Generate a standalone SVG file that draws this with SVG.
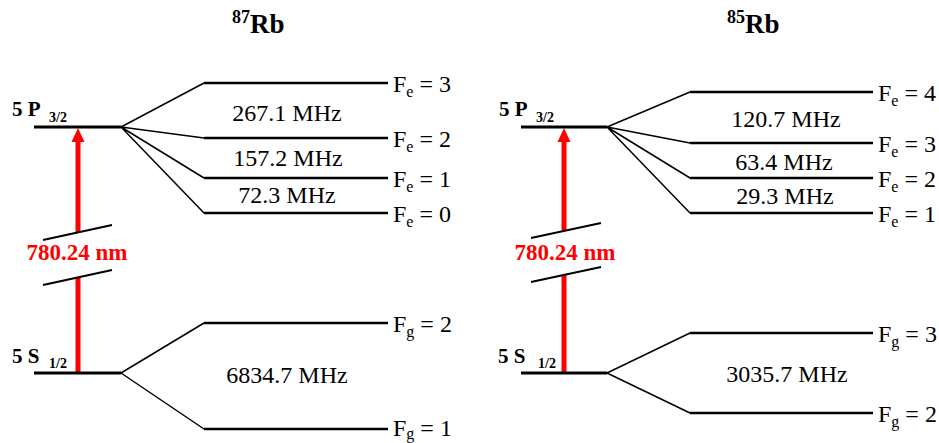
<svg xmlns="http://www.w3.org/2000/svg" width="939" height="443" viewBox="0 0 939 443">
<style>
text{font-family:"Liberation Serif",Tinos,"Times New Roman",Times,"Noto Serif","DejaVu Serif",serif;fill:#000}
.lvl{stroke:#000;stroke-width:3;fill:none}
.sub{stroke:#000;stroke-width:2.5;fill:none}
.con{stroke:#000;stroke-width:1.5;fill:none}
.brk{stroke:#000;stroke-width:2;fill:none}
.red{stroke:#ff0000;stroke-width:5;fill:none}
.lab{font-size:24px}
.mhz{font-size:24px;text-anchor:middle}
.st{font-size:21px;font-weight:bold}
.title{font-weight:bold}
.nm{font-size:23px;font-weight:bold;fill:#ff0000;text-anchor:middle}
</style>
<text class="title" x="232" y="33"><tspan font-size="18" dy="-10">87</tspan><tspan font-size="27" dy="10">Rb</tspan></text>
<text class="title" x="727" y="33"><tspan font-size="18" dy="-10">85</tspan><tspan font-size="27" dy="10">Rb</tspan></text>

<g id="connectors">
<path class="con" d="M121,127 L204,83 M121,127 L204,138 M121,127 L204,178 M121,127 L204,213"/>
<path class="con" d="M121,373 L204,323 M121,373 L204,429"/>
<path class="con" d="M607,127 L690,92 M607,127 L690,143 M607,127 L690,178 M607,127 L690,213"/>
<path class="con" d="M607,373 L690,333 M607,373 L690,413"/>
</g>

<g id="rb87-transition">
<line class="red" x1="78" y1="373" x2="78" y2="277"/>
<line class="red" x1="78" y1="232" x2="78" y2="142"/>
<path d="M71.5,142 L78,128 L84.5,142 Z" fill="#ff0000"/>
<line class="brk" x1="43" y1="240" x2="112" y2="225"/>
<line class="brk" x1="43" y1="285" x2="112" y2="270"/>
<text class="nm" x="77" y="260">780.24 nm</text>
</g>

<g id="rb87-5P">
<line class="lvl" x1="34" y1="127" x2="121" y2="127"/>
<text class="st" x="12" y="116">5 P<tspan font-size="14" x="49" y="122">3/2</tspan></text>
</g>
<g id="rb87-Fe3"><line class="sub" x1="204" y1="83" x2="388" y2="83"/><text class="lab" x="393" y="92">F<tspan font-size="16" dy="5">e</tspan><tspan dy="-5"> = 3</tspan></text></g>
<g id="rb87-Fe2"><line class="sub" x1="204" y1="138" x2="388" y2="138"/><text class="lab" x="393" y="147">F<tspan font-size="16" dy="5">e</tspan><tspan dy="-5"> = 2</tspan></text></g>
<g id="rb87-Fe1"><line class="sub" x1="204" y1="178" x2="388" y2="178"/><text class="lab" x="393" y="187">F<tspan font-size="16" dy="5">e</tspan><tspan dy="-5"> = 1</tspan></text></g>
<g id="rb87-Fe0"><line class="sub" x1="204" y1="213" x2="388" y2="213"/><text class="lab" x="393" y="222">F<tspan font-size="16" dy="5">e</tspan><tspan dy="-5"> = 0</tspan></text></g>
<text class="mhz" x="287" y="121">267.1 MHz</text>
<text class="mhz" x="288" y="166">157.2 MHz</text>
<text class="mhz" x="287" y="203">72.3 MHz</text>

<g id="rb87-5S">
<line class="lvl" x1="34" y1="373" x2="121" y2="373"/>
<text class="st" x="12" y="363">5 S<tspan font-size="14" x="49" y="368">1/2</tspan></text>
</g>
<g id="rb87-Fg2"><line class="sub" x1="204" y1="323" x2="388" y2="323"/><text class="lab" x="393" y="332">F<tspan font-size="16" dy="5">g</tspan><tspan dy="-5"> = 2</tspan></text></g>
<g id="rb87-Fg1"><line class="sub" x1="204" y1="429" x2="388" y2="429"/><text class="lab" x="393" y="436">F<tspan font-size="16" dy="3">g</tspan><tspan dy="-3"> = 1</tspan></text></g>
<text class="mhz" x="287" y="383">6834.7 MHz</text>

<g id="rb85-transition">
<line class="red" x1="564" y1="373" x2="564" y2="275"/>
<line class="red" x1="564" y1="230" x2="564" y2="142"/>
<path d="M557.5,142 L564,128 L570.5,142 Z" fill="#ff0000"/>
<line class="brk" x1="531" y1="238" x2="601" y2="223"/>
<line class="brk" x1="531" y1="282" x2="601" y2="267"/>
<text class="nm" x="565" y="260">780.24 nm</text>
</g>

<g id="rb85-5P">
<line class="lvl" x1="521" y1="127" x2="607" y2="127"/>
<text class="st" x="499" y="116">5 P<tspan font-size="14" x="536" y="122">3/2</tspan></text>
</g>
<g id="rb85-Fe4"><line class="sub" x1="690" y1="92" x2="873" y2="92"/><text class="lab" x="878" y="101">F<tspan font-size="16" dy="5">e</tspan><tspan dy="-5"> = 4</tspan></text></g>
<g id="rb85-Fe3"><line class="sub" x1="690" y1="143" x2="873" y2="143"/><text class="lab" x="878" y="152">F<tspan font-size="16" dy="5">e</tspan><tspan dy="-5"> = 3</tspan></text></g>
<g id="rb85-Fe2"><line class="sub" x1="690" y1="178" x2="873" y2="178"/><text class="lab" x="878" y="187">F<tspan font-size="16" dy="5">e</tspan><tspan dy="-5"> = 2</tspan></text></g>
<g id="rb85-Fe1"><line class="sub" x1="690" y1="213" x2="873" y2="213"/><text class="lab" x="878" y="222">F<tspan font-size="16" dy="5">e</tspan><tspan dy="-5"> = 1</tspan></text></g>
<text class="mhz" x="786" y="127">120.7 MHz</text>
<text class="mhz" x="784" y="170">63.4 MHz</text>
<text class="mhz" x="785" y="204">29.3 MHz</text>

<g id="rb85-5S">
<line class="lvl" x1="521" y1="373" x2="607" y2="373"/>
<text class="st" x="498" y="363">5 S<tspan font-size="14" x="538" y="368">1/2</tspan></text>
</g>
<g id="rb85-Fg3"><line class="sub" x1="690" y1="333" x2="873" y2="333"/><text class="lab" x="878" y="342">F<tspan font-size="16" dy="5">g</tspan><tspan dy="-5"> = 3</tspan></text></g>
<g id="rb85-Fg2"><line class="sub" x1="690" y1="413" x2="873" y2="413"/><text class="lab" x="878" y="422">F<tspan font-size="16" dy="5">g</tspan><tspan dy="-5"> = 2</tspan></text></g>
<text class="mhz" x="787" y="382">3035.7 MHz</text>
</svg>
